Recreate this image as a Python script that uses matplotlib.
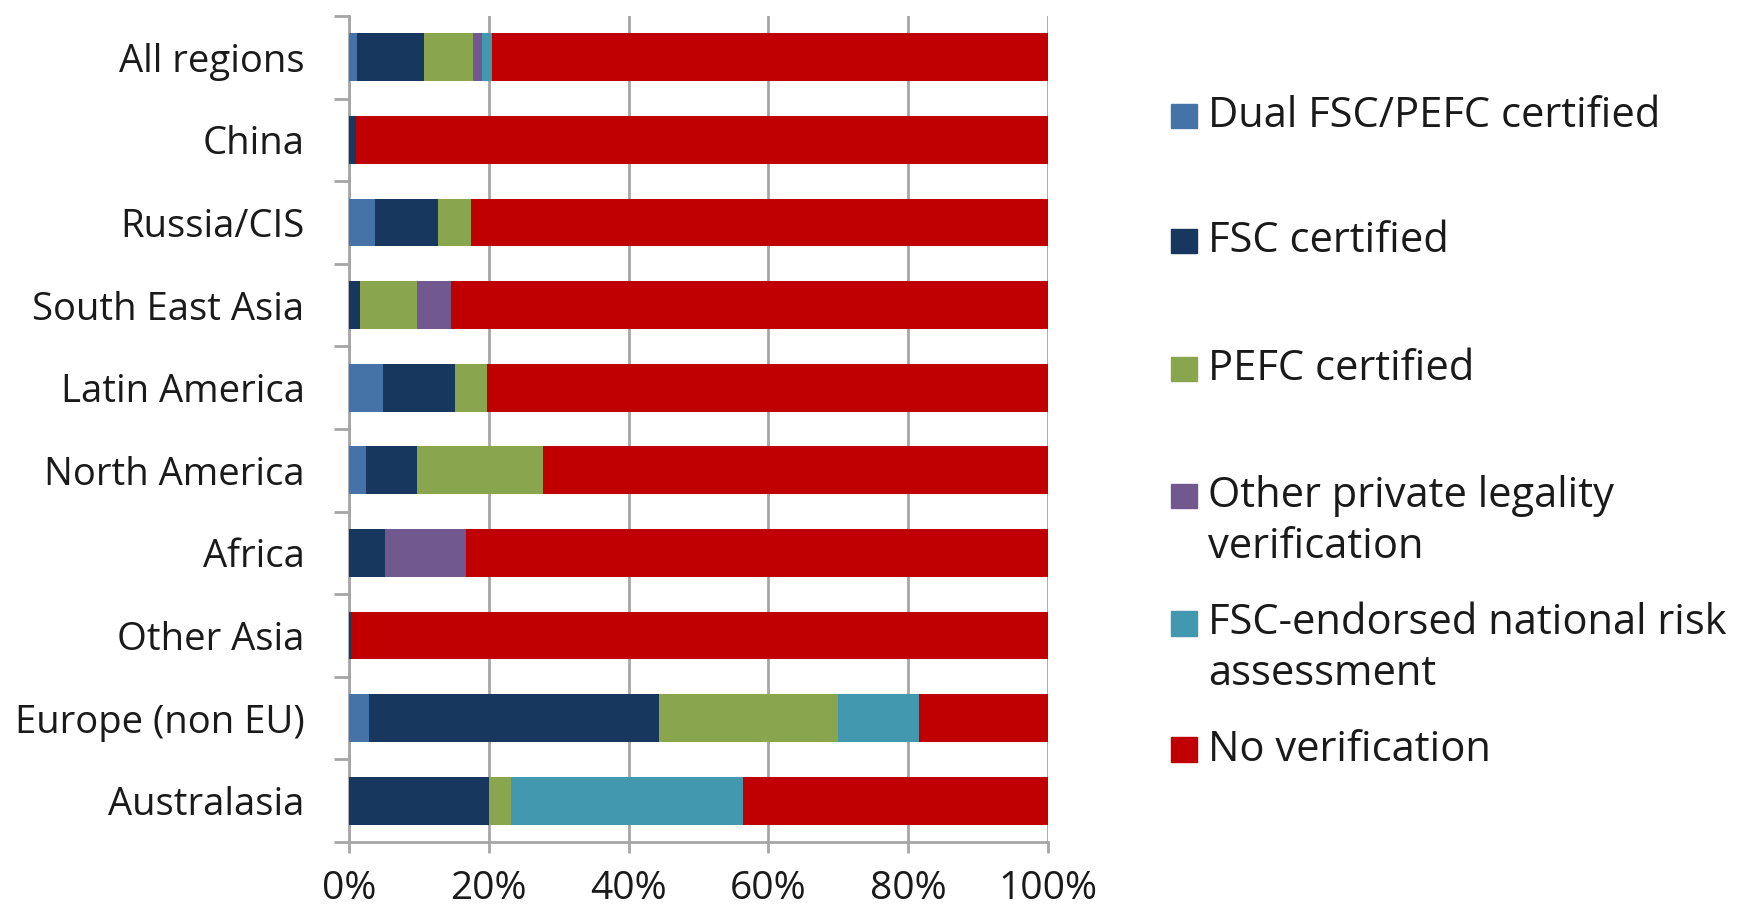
import matplotlib.pyplot as plt
from matplotlib.patches import Rectangle
import numpy as np

plt.rcParams['font.family'] = ['Open Sans', 'DejaVu Sans']

regions = ["All regions", "China", "Russia/CIS", "South East Asia", "Latin America",
           "North America", "Africa", "Other Asia", "Europe (non EU)", "Australasia"]

# shares in percent, one list per verification type
dual = [1.2, 0.0, 3.7, 0.0, 4.9, 2.5, 0.0, 0.0, 2.8, 0.0]
fsc = [9.5, 1.0, 9.1, 1.6, 10.3, 7.3, 5.2, 0.3, 41.6, 20.1]
pefc = [7.0, 0.0, 4.6, 8.2, 4.6, 17.9, 0.0, 0.0, 25.6, 3.1]
other = [1.3, 0.0, 0.0, 4.8, 0.0, 0.0, 11.6, 0.0, 0.0, 0.0]
risk = [1.4, 0.0, 0.0, 0.0, 0.0, 0.0, 0.0, 0.0, 11.5, 33.1]
none = [79.6, 99.0, 82.6, 85.4, 80.2, 72.3, 83.2, 99.7, 18.5, 43.7]

series = [dual, fsc, pefc, other, risk, none]
names = ["Dual FSC/PEFC certified", "FSC certified", "PEFC certified",
         "Other private legality\nverification", "FSC-endorsed national risk\nassessment",
         "No verification"]
colors = ["#4572A7", "#17375E", "#89A54E", "#71588F", "#4198AF", "#C00000"]

fig = plt.figure(figsize=(17.38, 9.08), dpi=100)
ax = fig.add_axes([0.2008, 0.0727, 0.4022, 0.9097])

y = np.arange(len(regions))
left = np.zeros(len(regions))
for vals, c in zip(series, colors):
    vals = np.array(vals)
    ax.barh(y, vals, left=left, height=0.58, color=c, edgecolor='none', zorder=3)
    left += vals

grid_c = "#a6a6a6"
txt_c = '#1a1a1a'
ax.set_xlim(0, 100)
ax.set_ylim(len(regions) - 0.5, -0.5)
ax.set_xticks(np.arange(0, 101, 20))
ax.set_xticklabels([f"{v}%" for v in range(0, 101, 20)])
ax.set_yticks(y)
ax.set_yticklabels(regions)
ax.set_yticks(np.arange(-0.5, len(regions), 1), minor=True)
ax.grid(axis='x', color=grid_c, linewidth=2, zorder=0)

for s in ['top', 'right']:
    ax.spines[s].set_visible(False)
for s in ['left', 'bottom']:
    ax.spines[s].set_color(grid_c)
    ax.spines[s].set_linewidth(2)

ax.tick_params(axis='y', which='major', length=0, pad=32, labelsize=27.5, labelcolor=txt_c)
ax.tick_params(axis='y', which='minor', length=11, width=2, color=grid_c)
ax.tick_params(axis='x', length=8, width=2, color=grid_c, pad=12, labelsize=28, labelcolor=txt_c)

# legend drawn by hand so the patch sits beside the first text line
ys = [0.8725, 0.7345, 0.5935, 0.4535, 0.3135, 0.1745]
for yy, name, c in zip(ys, names, colors):
    fig.add_artist(Rectangle((0.674, yy - 0.0135), 0.0145, 0.027,
                             transform=fig.transFigure, color=c))
    for i, ln in enumerate(name.split('\n')):
        fig.text(0.695, yy - i * 0.0562, ln, fontsize=30, color=txt_c, va='center')

fig.savefig("out.png", dpi=100)
